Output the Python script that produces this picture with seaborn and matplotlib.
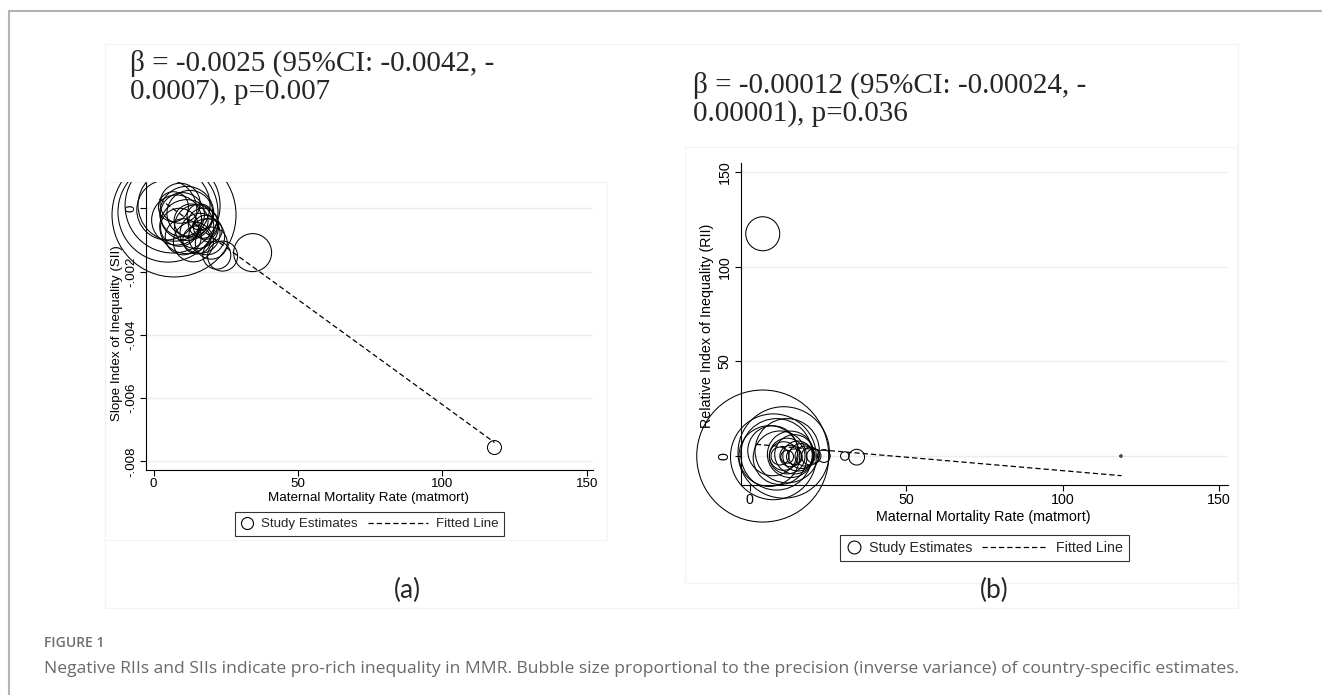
import matplotlib
matplotlib.use("Agg")
import matplotlib.pyplot as plt
import seaborn as sns
import pandas as pd
from matplotlib.lines import Line2D
from matplotlib.patches import Rectangle
from matplotlib.legend_handler import HandlerLine2D

# ---- data ----
# (a) slope index of inequality vs maternal mortality, bubble area ~ precision
sii_mmr = [7.1, 6.6, 7.1, 11.5, 9.2, 12.6, 14.9, 16.1, 11.5, 17.2, 18.4, 10.3, 13.8, 8.0,
           6.9, 4.6, 19.6, 16.1, 23.9, 34.3, 21.9, 118.0, 15.0, 13.0, 18.0, 10.0, 20.0, 9.0, 5.0]
sii_val = [-0.00021, 0.00009, 0.0001, -0.00016, 0.00016, -0.00016, -0.00058, -0.00079,
           -0.00058, -0.00047, -0.0009, -0.0009, -0.00106, -0.00037, 0.00005, -0.00005,
           -0.00069, -0.00027, -0.00151, -0.0014, -0.00148, -0.00756, -0.001, -0.0004,
           -0.0006, -0.0002, -0.0011, -0.0006, -0.00012]
sii_prec = [38.44, 22.56, 12.96, 7.29, 4.0, 5.29, 4.84, 4.0, 7.29, 2.25, 3.24, 3.24, 4.0,
            6.25, 2.25, 9.0, 1.44, 1.69, 2.25, 3.61, 1.96, 0.49, 1.96, 2.89, 1.44, 4.84,
            2.56, 3.61, 25.0]
sii_fit_x = [2, 118]
sii_fit_y = [0.0003, -0.0074]
sii_ticks = [0, -0.002, -0.004, -0.006, -0.008]
sii_ticklabels = ["0", "-.002", "-.004", "-.006", "-.008"]

# (b) relative index of inequality vs maternal mortality
rii_mmr = [4.2, 7.6, 10.9, 8.6, 6.3, 12.0, 9.7, 13.1, 7.4, 14.3, 12.0, 15.4, 10.9, 16.5,
           13.1, 17.7, 9.7, 19.4, 14.3, 20.5, 12.0, 23.7, 30.4, 34.2, 4.2, 118.6]
rii_val = [0, -0.4, 1.9, 0.9, 0, 2.8, -0.9, 0.9, 2.8, 0.9, 0, 0, 0, 0,
           0, 0, 0, 0, -0.4, 0, -0.4, 0, 0, -0.6, 117.5, 0]
rii_prec = [43.56, 18.4, 20.9, 12.76, 9.22, 10.33, 7.17, 5.39, 6.25, 3.86, 3.19, 2.25, 2.04,
            1.56, 1.15, 1.0, 0.8, 0.8, 0.62, 0.51, 0.41, 0.41, 0.18, 0.62, 2.89, 0.014]
rii_fit_x = [2, 118.8]
rii_fit_y = [6.2, -10.4]
rii_ticks = [0, 50, 100, 150]

mmr_ticks = [0, 50, 100, 150]

beta_a = ["β = -0.0025 (95%CI: -0.0042, -", "0.0007), p=0.007"]
beta_b = ["β = -0.00012 (95%CI: -0.00024, -", "0.00001), p=0.036"]
caption = ("Negative RIIs and SIIs indicate pro-rich inequality in MMR. Bubble size proportional "
           "to the precision (inverse variance) of country-specific estimates.")

sns.set_theme(style="ticks")
plt.rcParams["font.family"] = ["Liberation Sans", "DejaVu Sans"]

W, H = 1322, 695
fig = plt.figure(figsize=(W / 100, H / 100), dpi=100)


def fx(px):
    return px / W


def fy(py):
    return 1 - py / H


class LongDash(HandlerLine2D):
    # dashed legend sample that reaches back into the column gap (Stata style)
    def __init__(self, extra, **kw):
        super().__init__(**kw)
        self.extra = extra

    def create_artists(self, legend, orig_handle, xdescent, ydescent, width, height, fontsize, trans):
        y = height / 2 - ydescent
        ln = Line2D([-xdescent - self.extra, width - xdescent], [y, y], color="black",
                    lw=0.9, linestyle=(0, (4.2, 2.4)))
        ln.set_transform(trans)
        return [ln]


def panel(rect, clip, x, y, w, fit_x, fit_y, xlim, ylim, yticks, ylabels, ylab,
          fs, leg_center, colspace, extra):
    ax = fig.add_axes(rect)
    ax.set_facecolor("none")
    for yt in yticks:
        if ylim[0] < yt < ylim[1] - 0.02 * (ylim[1] - ylim[0]):
            ax.axhline(yt, color="#e6eff1", lw=1.0, zorder=0)
    df = pd.DataFrame({"x": x, "y": y, "w": w})
    k = 207.4
    sns.scatterplot(data=df, x="x", y="y", size="w", sizes=(min(w) * k, max(w) * k),
                    size_norm=(min(w), max(w)), facecolor="none", edgecolor="black",
                    linewidth=0.75, legend=False, ax=ax, zorder=3)
    coll = ax.collections[-1]
    coll.set_facecolor("none")
    coll.set_edgecolor("black")
    cr = Rectangle((fx(clip[0]), fy(clip[3])), fx(clip[2] - clip[0]), (clip[3] - clip[1]) / H,
                   transform=fig.transFigure)
    coll.set_clip_path(cr)
    sns.lineplot(x=fit_x, y=fit_y, ax=ax, color="black", lw=0.9,
                 linestyle=(0, (4.2, 2.4)), zorder=4)
    ax.set_xlim(xlim)
    ax.set_ylim(ylim)
    ax.set_xticks(mmr_ticks)
    ax.set_xticklabels([str(t) for t in mmr_ticks])
    ax.set_yticks(yticks)
    ax.set_yticklabels(ylabels, rotation=90, va="center")
    ax.tick_params(axis="both", direction="out", length=4, width=0.8, color="black",
                   labelsize=fs, pad=2, labelcolor="black")
    for s in ["top", "right"]:
        ax.spines[s].set_visible(False)
    for s in ["left", "bottom"]:
        ax.spines[s].set_color("black")
        ax.spines[s].set_linewidth(0.8)
    ax.set_xlabel("Maternal Mortality Rate (matmort)", fontsize=fs, color="black")
    ax.set_ylabel(ylab, fontsize=fs, color="black")
    ax.xaxis.label.set_va("center")
    ax.yaxis.label.set_va("center")
    h1 = Line2D([], [], marker="o", ms=fs * 0.9, mfc="none", mec="black", mew=0.8, ls="none")
    h2 = Line2D([], [], color="black", ls="--")
    leg = ax.legend([h1, h2], ["Study Estimates", "Fitted Line"], ncol=2, loc="center",
                    bbox_to_anchor=(fx(leg_center[0]), fy(leg_center[1])),
                    bbox_transform=fig.transFigure, fontsize=fs, frameon=True,
                    fancybox=False, edgecolor="black", handlelength=1.0,
                    handletextpad=0.55, columnspacing=colspace, borderpad=0.45,
                    handler_map={h2: LongDash(extra)})
    leg.get_frame().set_linewidth(0.8)
    return ax


# (a)
axa = panel([fx(146), fy(470), fx(593 - 146), (470 - 183) / H],
            (105, 182, 607, 540), sii_mmr, sii_val, sii_prec, sii_fit_x, sii_fit_y,
            (-2.6, 152.1), (-0.00827, 0.0008), sii_ticks, sii_ticklabels,
            "Slope Index of Inequality (SII)", 9.6, (369.5, 524), 4.3, 34)
axa.xaxis.set_label_coords((369 - 146) / 447, -(498 - 470) / 287)
axa.yaxis.set_label_coords(-(146 - 117) / 447, (470 - 333) / 287)

# (b)
axb = panel([fx(740.7), fy(484.6), fx(1228 - 740.7), (484.6 - 163.2) / H],
            (685, 148, 1237, 583), rii_mmr, rii_val, rii_prec, rii_fit_x, rii_fit_y,
            (-2.84, 152.8), (-15.1, 154.8), rii_ticks, [str(t) for t in rii_ticks],
            "Relative Index of Inequality (RII)", 10.3, (984.5, 548), 4.3, 37)
axb.xaxis.set_label_coords((983.6 - 740.7) / 487.3, -(516.8 - 484.6) / 321.4)
axb.yaxis.set_label_coords(-(740.7 - 707) / 487.3, (484.6 - 325.7) / 321.4)
axb.tick_params(axis="y", pad=2.5)

# faint panel frames and outer rule lines
faint = "#f3f5f5"
for (x0, y0, x1, y1) in [(105, 44, 1238, 608), (105, 182, 607, 540), (685, 147, 1237, 583)]:
    fig.add_artist(Rectangle((fx(x0), fy(y1)), fx(x1 - x0), (y1 - y0) / H, transform=fig.transFigure,
                             fill=False, edgecolor=faint, lw=1.0, zorder=0))
fig.add_artist(Line2D([fx(9), 1], [fy(10.7), fy(10.7)], color="#b3b3b3", lw=1.5))
fig.add_artist(Line2D([fx(9), fx(9)], [fy(10.7), 0], color="#b3b3b3", lw=1.5))

serif = ["Liberation Serif", "DejaVu Serif"]
fig.text(fx(130), fy(71), beta_a[0], fontsize=21, family=serif, va="baseline")
fig.text(fx(130), fy(99), beta_a[1], fontsize=21, family=serif, va="baseline")
fig.text(fx(693), fy(93), beta_b[0], fontsize=21, family=serif, va="baseline")
fig.text(fx(693), fy(121), beta_b[1], fontsize=21, family=serif, va="baseline")

fig.text(fx(407), fy(590), "(a)", fontsize=19, family=["Lato", "DejaVu Sans"], ha="center", va="center")
fig.text(fx(994), fy(590), "(b)", fontsize=19, family=["Lato", "DejaVu Sans"], ha="center", va="center")

fig.text(fx(44), fy(643), "FIGURE 1", fontsize=10, family=["Open Sans", "DejaVu Sans"],
         weight="semibold", color="#6e6e6e", va="center")
fig.text(fx(44), fy(669), caption, fontsize=12.6, family=["Open Sans", "DejaVu Sans"],
         color="#6a6a6a", va="center")

fig.savefig("out.png", dpi=100)
